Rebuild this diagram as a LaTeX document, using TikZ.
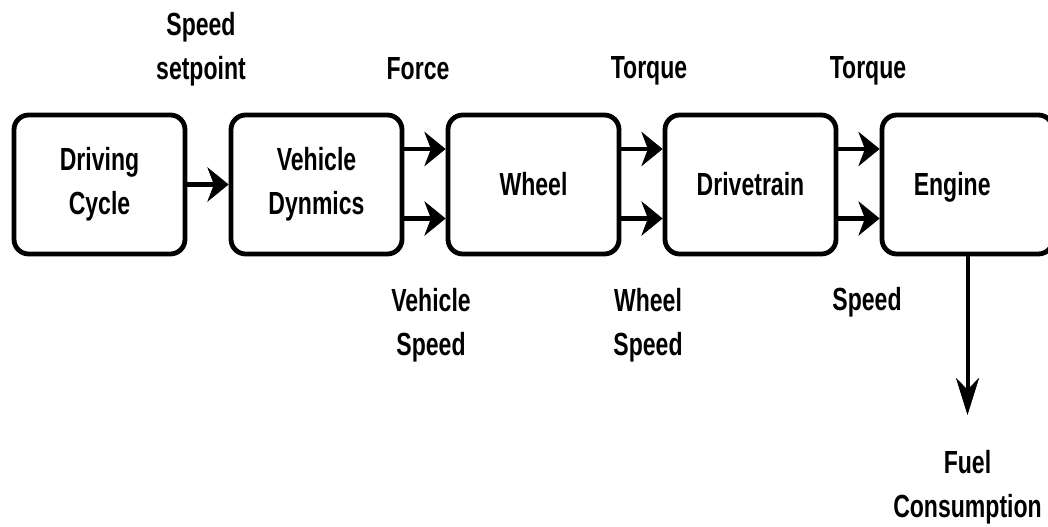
\documentclass[tikz,border=0pt]{standalone}
\usepackage{fontspec}
\newfontfamily\labfont{Liberation Sans}[FakeStretch=0.72]
\usetikzlibrary{arrows.meta,calc}

\begin{document}
\begin{tikzpicture}[x=0.75pt,y=-0.75pt,
  txt/.style={font=\labfont\bfseries\fontsize{24pt}{33pt}\selectfont, align=center, inner sep=0pt},
  block/.style={txt, draw=black, line width=3.6pt, rounded corners=11pt,
                minimum width=128.25pt, minimum height=104.25pt, fill=white},
  lab/.style={txt, anchor=base},
  harr/.style={line width=3.6pt,
               -{Stealth[length=16pt, width=26pt, inset=5pt, line width=0.5pt]}},
  varr/.style={line width=3pt,
               -{Stealth[length=28pt, width=17.5pt, inset=9pt, line width=0.5pt]}}]

\useasboundingbox (0,0) rectangle (1048,527);
\clip (0,0) rectangle (1048,527);

% processing chain
\node[block] (dc) at (99.5,184.5)  {Driving\\Cycle};
\node[block] (vd) at (316.5,184.5) {Vehicle\\Dynmics};
\node[block] (wh) at (533.5,184.5) {Wheel};
\node[block] (dt) at (750.5,184.5) {Drivetrain};
\node[block, label={[txt, xshift=-11.5pt, yshift=-2pt]center:Engine}] (en) at (967.5,184.5) {};

% signal labels (base = baseline of the last line)
\node[lab] (lsp)  at (201,80)  {Speed\\setpoint};
\node[lab] (lfo)  at (418,80)  {Force};
\node[lab] (ltq1) at (649,79)  {Torque};
\node[lab] (ltq2) at (868,79)  {Torque};
\node[lab] (lvs)  at (431,355) {Vehicle\\Speed};
\node[lab] (lws)  at (648,355) {Wheel\\Speed};
\node[lab] (lspd) at (867,310) {Speed};
\node[lab] (lfc)  at (967.5,517) {Fuel\\Consumption};

% connectors
\draw[harr] (dc.east) -- (vd.west);
\draw[harr] ($(vd.east)+(0,-35.5)$) -- ($(wh.west)+(0,-35.5)$);
\draw[harr] ($(vd.east)+(0,34)$)    -- ($(wh.west)+(0,34)$);
\draw[harr] ($(wh.east)+(0,-35.5)$) -- ($(dt.west)+(0,-35.5)$);
\draw[harr] ($(wh.east)+(0,34)$)    -- ($(dt.west)+(0,34)$);
\draw[harr] ($(dt.east)+(0,-35.5)$) -- ($(en.west)+(0,-35.5)$);
\draw[harr] ($(dt.east)+(0,34)$)    -- ($(en.west)+(0,34)$);

\coordinate (fuelin) at (967.5,415);
\draw[varr] (en.south) -- (fuelin);
\end{tikzpicture}
\end{document}
